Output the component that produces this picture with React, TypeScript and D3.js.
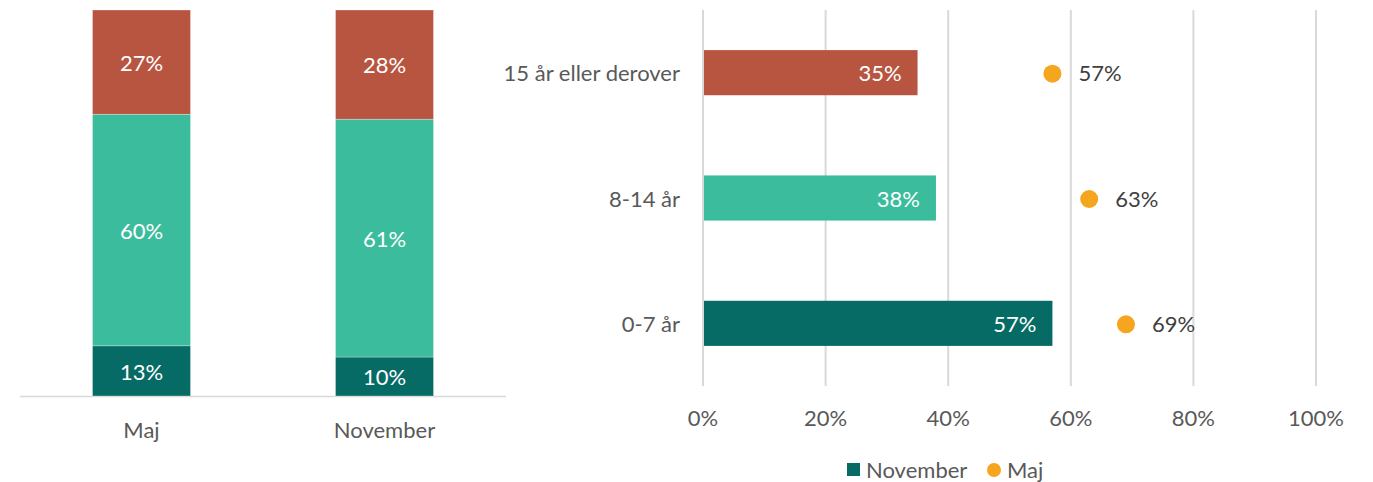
import React from "react";
import * as d3 from "d3";

const periods = ["Maj", "November"];
const stackKeys = ["low", "mid", "high"];
const lowValues = [13, 10];
const midValues = [60, 61];
const highValues = [27, 28];

const ageGroups = ["15 år eller derover", "8-14 år", "0-7 år"];
const novemberValues = [35, 38, 57];
const majValues = [57, 63, 69];
const xTicks = [0, 20, 40, 60, 80, 100];

const colors: Record<string, string> = { low: "#066B65", mid: "#3BBC9C", high: "#B85540" };
const barColors = ["#B85540", "#3BBC9C", "#066B65"];
const dotColor = "#F5A51E";
const textColor = "#595959";
const font = "Lato, 'Open Sans', sans-serif";
const fs = 22;

export default function App() {
  const W = 1373, H = 482;

  const rows = periods.map((p, i) => ({ period: p, low: lowValues[i], mid: midValues[i], high: highValues[i] }));
  const stack = d3.stack<any>().keys(stackKeys).offset(d3.stackOffsetExpand);
  const series = stack(rows);
  const lx = d3.scaleBand().domain(periods).range([20, 506]).paddingInner(1 - 98 / 243).paddingOuter((1 - 98 / 243) / 2);
  const ly = d3.scaleLinear().domain([0, 1]).range([396, 10]);

  const rx = d3.scaleLinear().domain([0, 100]).range([703, 1316]);
  const ry = d3.scaleBand().domain(ageGroups).range([10, 386]).paddingInner(0.64).paddingOuter(0.32);

  return (
    <svg width={W} height={H} style={{ display: "block", position: "absolute", left: 0, top: 0 }} fontFamily={font}>
      <line x1={20} x2={506} y1={396.5} y2={396.5} stroke="#d9d9d9" strokeWidth={1.5} />
      {series.map((s) =>
        s.map((d, i) => {
          const x = lx(periods[i])!;
          const y0 = ly(d[1]);
          const y1 = ly(d[0]);
          const v = (rows[i] as any)[s.key];
          return (
            <g key={s.key + i}>
              <rect x={x} y={y0} width={lx.bandwidth()} height={y1 - y0} fill={colors[s.key]} stroke="#fff" strokeWidth={0.6} strokeOpacity={0.5} />
              <text x={x + lx.bandwidth() / 2} y={(y0 + y1) / 2 + 1} dy="0.35em" textAnchor="middle" fill="#fff" fontSize={fs}>
                {v}%
              </text>
            </g>
          );
        })
      )}
      {periods.map((p) => (
        <text key={p} x={lx(p)! + lx.bandwidth() / 2} y={430} dy="0.35em" textAnchor="middle" fill={textColor} fontSize={fs}>
          {p}
        </text>
      ))}

      {xTicks.map((t) => (
        <line key={t} x1={rx(t)} x2={rx(t)} y1={10} y2={386} stroke="#d9d9d9" strokeWidth={2} />
      ))}
      {xTicks.map((t) => (
        <text key={"l" + t} x={rx(t)} y={418} dy="0.35em" textAnchor="middle" fill={textColor} fontSize={fs}>
          {t}%
        </text>
      ))}
      {ageGroups.map((g, i) => {
        const y = ry(g)!;
        const h = ry.bandwidth();
        const cy = y + h / 2 + 1;
        return (
          <g key={g}>
            <text x={680} y={cy} dy="0.35em" textAnchor="end" fill={textColor} fontSize={fs}>
              {g}
            </text>
            <rect x={rx(0) + 1} y={y} width={rx(novemberValues[i]) - rx(0) - 1} height={h} fill={barColors[i]} />
            <text x={rx(novemberValues[i]) - 16} y={cy} dy="0.35em" textAnchor="end" fill="#fff" fontSize={fs}>
              {novemberValues[i]}%
            </text>
            <circle cx={rx(majValues[i])} cy={cy} r={9} fill={dotColor} />
            <text x={rx(majValues[i]) + 26} y={cy} dy="0.35em" textAnchor="start" fill="#404040" fontSize={fs}>
              {majValues[i]}%
            </text>
          </g>
        );
      })}

      <rect x={847} y={463} width={13} height={13} fill="#066B65" />
      <text x={866} y={470} dy="0.35em" fill={textColor} fontSize={fs}>November</text>
      <circle cx={994} cy={470} r={7} fill={dotColor} />
      <text x={1007} y={470} dy="0.35em" fill={textColor} fontSize={fs}>Maj</text>
    </svg>
  );
}
